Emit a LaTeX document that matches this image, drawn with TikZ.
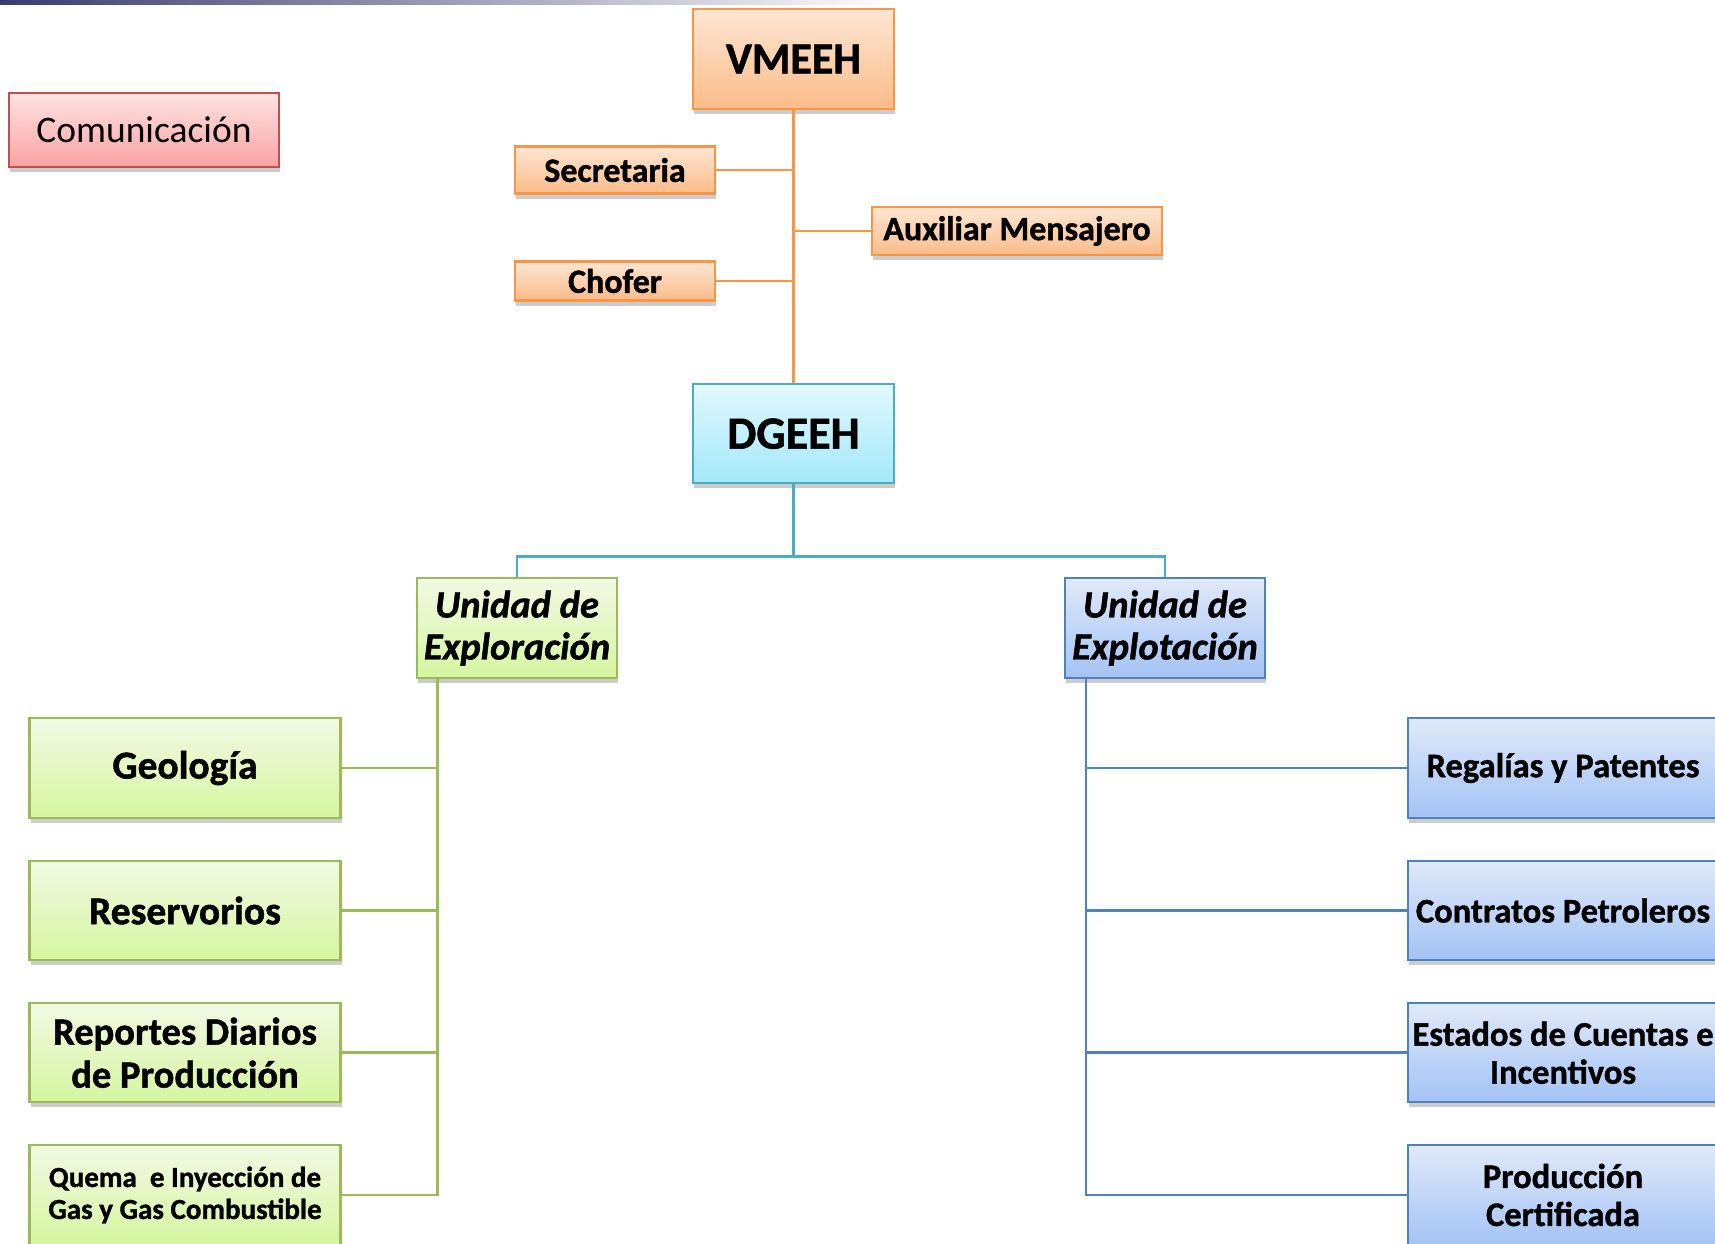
\documentclass[tikz,border=0pt]{standalone}
\usepackage{fontspec}
\setmainfont{Carlito}[BoldFeatures={FakeBold=1.2},BoldItalicFeatures={FakeBold=1.2}]
\usetikzlibrary{shadows}
\definecolor{orB}{HTML}{F79646}
\definecolor{orT}{HTML}{FDE6D4}
\definecolor{orD}{HTML}{FBBC88}
\definecolor{cyB}{HTML}{4BACC6}
\definecolor{cyT}{HTML}{E2F8FE}
\definecolor{cyD}{HTML}{A2E8FA}
\definecolor{grB}{HTML}{9BBB59}
\definecolor{grT}{HTML}{F2F9E4}
\definecolor{grD}{HTML}{D5F6A0}
\definecolor{blB}{HTML}{4F81BD}
\definecolor{blT}{HTML}{E0E9F9}
\definecolor{blD}{HTML}{A3C3F5}
\definecolor{rdB}{HTML}{C0504D}
\definecolor{rdT}{HTML}{FEE2E2}
\definecolor{rdD}{HTML}{F9A3A3}
\definecolor{topln}{HTML}{3B3B6E}
\tikzset{
  box/.style={rectangle, inner sep=0pt, align=center, line width=2.5pt,
    drop shadow={shadow xshift=1pt, shadow yshift=-5pt, opacity=0.2, fill=black}},
  orbox/.style={box, draw=orB, top color=orT, bottom color=orD},
  cybox/.style={box, draw=cyB, top color=cyT, bottom color=cyD},
  grbox/.style={box, draw=grB, top color=grT, bottom color=grD},
  blbox/.style={box, draw=blB, top color=blT, bottom color=blD},
  rdbox/.style={box, draw=rdB, top color=rdT, bottom color=rdD},
  orln/.style={draw=orB, line width=2.5pt},
  cyln/.style={draw=cyB, line width=2.5pt},
  grln/.style={draw=grB, line width=2.5pt},
  blln/.style={draw=blB, line width=2.5pt},
}
\begin{document}
\begin{tikzpicture}[x=1pt,y=-1pt]
\useasboundingbox (0,0) rectangle (1715,1243);
\fill[white] (0,0) rectangle (1715,1243);
\shade[left color=topln, right color=white] (0,0) rectangle (900,4);

\node[rdbox, minimum width=270pt, minimum height=74pt, font=\fontsize{37.5}{42}\selectfont] (com) at (144,130) {Comunicación};

\node[orbox, minimum width=201pt, minimum height=100pt, font=\fontsize{44}{48}\selectfont\bfseries] (vmeeh) at (793.5,59) {VMEEH};
\node[orbox, minimum width=200pt, minimum height=47pt, font=\fontsize{34}{36}\selectfont\bfseries] (sec) at (615,170) {Secretaria};
\node[orbox, minimum width=290pt, minimum height=48pt, font=\fontsize{34}{36}\selectfont\bfseries] (aux) at (1017,231) {Auxiliar Mensajero};
\node[orbox, minimum width=200pt, minimum height=39pt, font=\fontsize{34}{36}\selectfont\bfseries] (chof) at (615,281) {Chofer};

\node[cybox, minimum width=201pt, minimum height=99pt, font=\fontsize{46}{50}\selectfont\bfseries] (dgeeh) at (793.5,433.7) {DGEEH};

\node[grbox, minimum width=200pt, minimum height=100pt, font=\fontsize{38.5}{42}\selectfont\bfseries\itshape] (uexp) at (517,628) {Unidad de\\Exploración};
\node[blbox, minimum width=200pt, minimum height=100pt, font=\fontsize{38.5}{42}\selectfont\bfseries\itshape] (uexl) at (1165,628) {Unidad de\\Explotación};

\node[grbox, minimum width=311pt, minimum height=100pt, font=\fontsize{39.5}{43}\selectfont\bfseries] (geo) at (185,768) {Geología};
\node[grbox, minimum width=311pt, minimum height=99pt, font=\fontsize{39.5}{43}\selectfont\bfseries] (res) at (185,910.5) {Reservorios};
\node[grbox, minimum width=311pt, minimum height=99pt, font=\fontsize{38.5}{43}\selectfont\bfseries] (rep) at (185,1052.7) {Reportes Diarios\\de Producción};
\node[grbox, minimum width=311pt, minimum height=100pt, font=\fontsize{29}{32}\selectfont\bfseries] (que) at (185,1195) {Quema\ \ e Inyección de\\Gas y Gas Combustible};

\node[blbox, minimum width=310pt, minimum height=100pt, font=\fontsize{34.5}{38}\selectfont\bfseries] (reg) at (1563,768) {Regalías y Patentes};
\node[blbox, minimum width=310pt, minimum height=99pt, font=\fontsize{34.5}{38}\selectfont\bfseries] (con) at (1563,910.5) {Contratos Petroleros};
\node[blbox, minimum width=310pt, minimum height=99pt, font=\fontsize{34.5}{38}\selectfont\bfseries] (est) at (1563,1052.7) {Estados de Cuentas e\\Incentivos};
\node[blbox, minimum width=310pt, minimum height=100pt, font=\fontsize{34.5}{38}\selectfont\bfseries] (pro) at (1563,1195) {Producción\\Certificada};

% orange connectors
\draw[orln] (vmeeh.south) -- (dgeeh.north);
\draw[orln] (sec.east) -- (sec.east -| vmeeh.south);
\draw[orln] (chof.east) -- (chof.east -| vmeeh.south);
\draw[orln] (aux.west) -- (aux.west -| vmeeh.south);

% cyan connectors
\coordinate (bj) at (793.5,556.7);
\draw[cyln] (dgeeh.south) -- (bj);
\draw[cyln] (uexp.north) -- (uexp.north |- bj) -- (uexl.north |- bj) -- (uexl.north);

% green connectors
\coordinate (gtop) at (437.5,678);
\draw[grln] (gtop) |- (que.east);
\draw[grln] (geo.east) -- (geo.east -| gtop);
\draw[grln] (res.east) -- (res.east -| gtop);
\draw[grln] (rep.east) -- (rep.east -| gtop);

% blue connectors
\coordinate (btop) at (1086,678);
\draw[blln] (btop) |- (pro.west);
\draw[blln] (reg.west) -- (reg.west -| btop);
\draw[blln] (con.west) -- (con.west -| btop);
\draw[blln] (est.west) -- (est.west -| btop);
\end{tikzpicture}
\end{document}
